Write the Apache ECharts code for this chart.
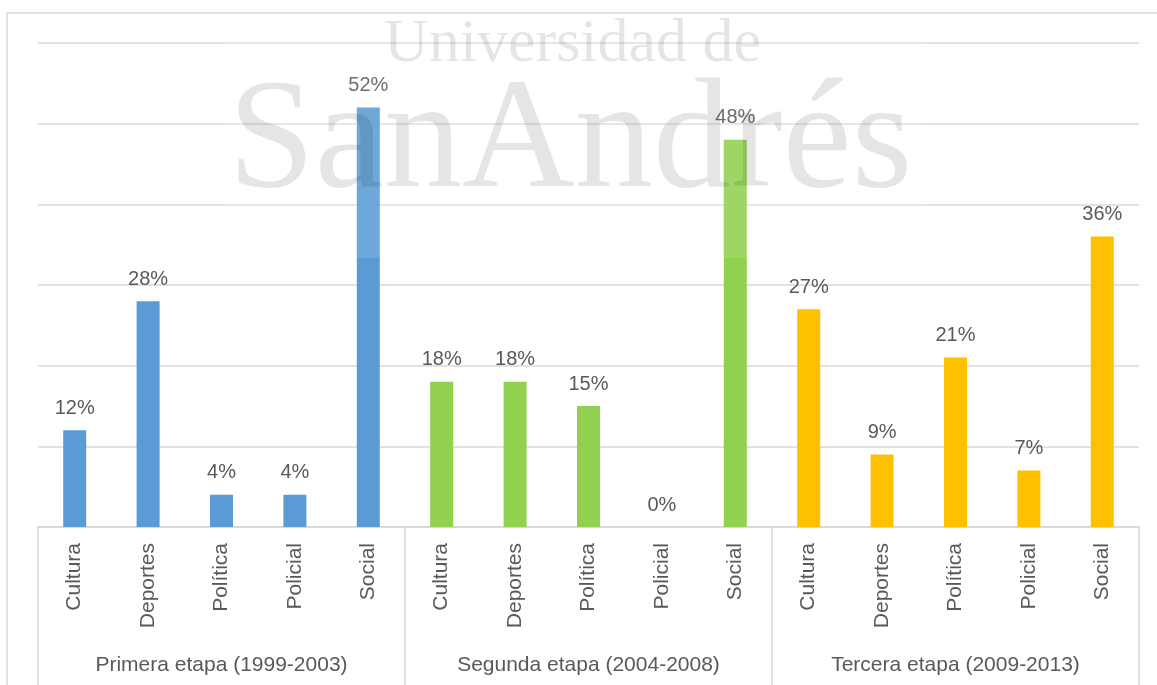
<!DOCTYPE html>
<html>
<head>
<meta charset="utf-8">
<script src="https://cdn.jsdelivr.net/npm/echarts@6/dist/echarts.min.js"></script>
<style>
  html, body { margin: 0; padding: 0; background: #fff; }
  #chart { width: 1157px; height: 685px; }
</style>
</head>
<body>
<div id="chart"></div>
<script>
// datos
const categorias = ['Cultura', 'Deportes', 'Política', 'Policial', 'Social',
                    'Cultura', 'Deportes', 'Política', 'Policial', 'Social',
                    'Cultura', 'Deportes', 'Política', 'Policial', 'Social'];
const etapas = ['Primera etapa (1999-2003)', 'Segunda etapa (2004-2008)', 'Tercera etapa (2009-2013)'];
const valores = [12, 28, 4, 4, 52,
                 18, 18, 15, 0, 48,
                 27, 9, 21, 7, 36];
const coloresEtapa = ['#5b9bd5', '#92d050', '#ffc000'];

const chart = echarts.init(document.getElementById('chart'));
const fuente = 'Liberation Sans';
const gris = '#d9d9d9';

chart.setOption({
  animation: false,
  grid: { left: 38, right: 18, top: 43, bottom: 158, containLabel: false },
  xAxis: [
    {
      type: 'category',
      data: categorias,
      axisLine: { show: true, lineStyle: { color: gris, width: 1.5 } },
      axisTick: { show: false },
      axisLabel: {
        rotate: 90,
        margin: 16,
        interval: 0,
        color: '#595959',
        fontFamily: fuente,
        fontSize: 21
      }
    },
    {
      type: 'category',
      data: etapas,
      position: 'bottom',
      axisLine: { show: true, lineStyle: { color: gris, width: 1.5 } },
      axisTick: { show: true, length: 160, lineStyle: { color: gris, width: 1.5 } },
      axisLabel: {
        margin: 128,
        color: '#595959',
        fontFamily: fuente,
        fontSize: 21
      }
    }
  ],
  yAxis: {
    type: 'value',
    min: 0,
    max: 60,
    interval: 10,
    axisLabel: { show: false },
    axisLine: { show: false },
    axisTick: { show: false },
    splitLine: { lineStyle: { color: gris, width: 1.5 } }
  },
  series: [
    {
      type: 'bar',
      data: valores,
      barWidth: 23,
      itemStyle: {
        color: p => coloresEtapa[Math.floor(p.dataIndex / 5)]
      },
      label: {
        show: true,
        position: 'top',
        distance: 12,
        formatter: '{c}%',
        color: '#595959',
        fontFamily: fuente,
        fontSize: 20
      }
    }
  ],
  graphic: [
    {
      type: 'rect',
      z: 0,
      silent: true,
      shape: { x: 7, y: 13, width: 1170, height: 700 },
      style: { fill: 'none', stroke: gris, lineWidth: 1.5 }
    },
    {
      type: 'rect',
      z: 100,
      silent: true,
      shape: { x: 225, y: 15, width: 700, height: 243 },
      style: { fill: 'rgba(255,255,255,0.12)' }
    },
    {
      type: 'text',
      z: 101,
      silent: true,
      left: 384,
      top: 14,
      style: {
        text: 'Universidad de',
        font: '62px "Liberation Serif"',
        fill: 'rgba(0,0,0,0.1)'
      }
    },
    {
      type: 'text',
      z: 101,
      silent: true,
      left: 228,
      top: 67,
      style: {
        text: 'SanAndrés',
        font: '156px "Liberation Serif"',
        fill: 'rgba(0,0,0,0.1)'
      }
    }
  ]
});
</script>
</body>
</html>
